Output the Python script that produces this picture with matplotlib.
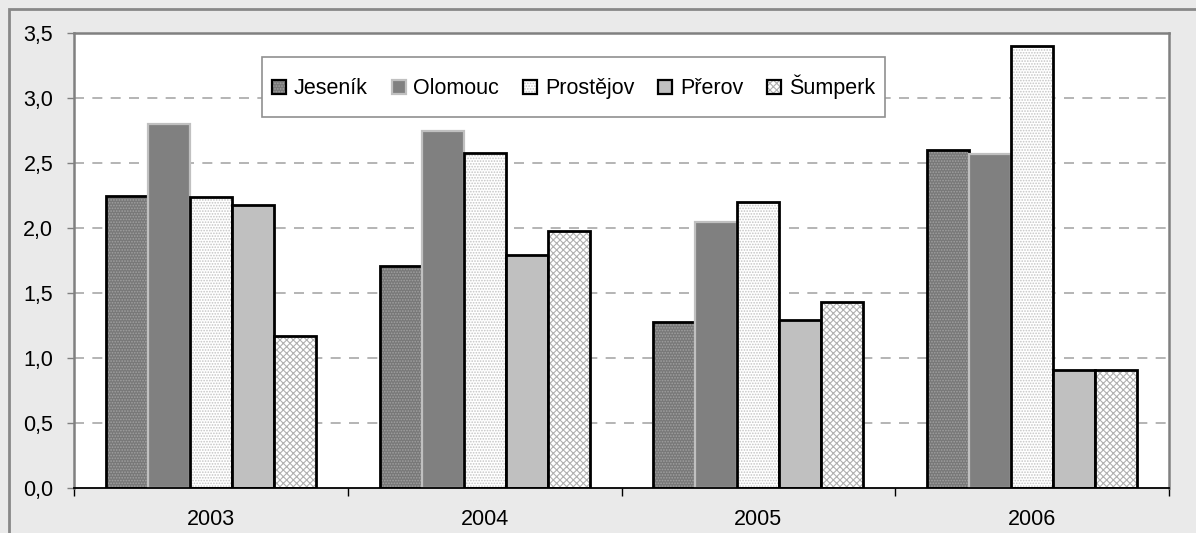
# -*- coding: utf-8 -*-
import matplotlib
matplotlib.use('Agg')
import matplotlib.pyplot as plt
import matplotlib.colors as mcolors
from matplotlib.patches import Patch, Rectangle
import numpy as np

##### DATEN #####
years = ['2003', '2004', '2005', '2006']
districts = ['Jeseník', 'Olomouc', 'Prostějov', 'Přerov', 'Šumperk']
jesenik = [2.25, 1.71, 1.28, 2.60]
olomouc = [2.80, 2.75, 2.05, 2.57]
prostejov = [2.24, 2.58, 2.20, 3.40]
prerov = [2.18, 1.79, 1.29, 0.91]
sumperk = [1.17, 1.98, 1.43, 0.91]
yticks = [0.0, 0.5, 1.0, 1.5, 2.0, 2.5, 3.0, 3.5]

series = [jesenik, olomouc, prostejov, prerov, sumperk]
# face, edge, hatch, hatch colour
styles = [('#787878', 'black', '......', '#a0a0a0'),
          ('#808080', '#c0c0c0', None, None),
          ('white', 'black', '......', '#c4c4c4'),
          ('#c0c0c0', 'black', None, None),
          ('white', 'black', 'xxxxx', '#b0b0b0')]

plt.rcParams['font.family'] = ['Liberation Sans', 'DejaVu Sans']
plt.rcParams['hatch.linewidth'] = 0.8

fig = plt.figure(figsize=(11.96, 5.33), dpi=100, facecolor='#eaeaea')
fig.patches.append(Rectangle((9/1196, -0.1), 1.2, 1 - 9/533 + 0.1, transform=fig.transFigure,
                             facecolor='none', edgecolor='#888888', lw=2, zorder=0))
ax = fig.add_axes([74/1196, 1 - 488/533, (1169 - 74)/1196, (488 - 33)/533])
ax.set_facecolor('white')

x = np.arange(len(years))
w = 0.1534
handles = []
for j, (vals, (fc, ec, hatch, hc)) in enumerate(zip(series, styles)):
    pos = x + (j - 2) * w
    lw = 2.0 if ec == 'black' else 1.6
    bars = ax.bar(pos, vals, w, color=fc, edgecolor=ec, linewidth=lw, hatch=hatch, zorder=3)
    h = Patch(facecolor=fc, edgecolor=ec, hatch=hatch, linewidth=1.6)
    if hatch:
        for b in bars:
            b._hatch_color = mcolors.to_rgba(hc)
            b.stale = True
        h._hatch_color = mcolors.to_rgba(hc)
    handles.append(h)

ax.set_xlim(-0.5, 3.5)
ax.set_ylim(0, 3.5)
ax.set_yticks(yticks)
ax.set_yticklabels([('%.1f' % t).replace('.', ',') for t in yticks])
ax.set_xticks(x)
ax.set_xticklabels(years)
ax.set_xticks(np.arange(-0.5, 4.0, 1.0), minor=True)
ax.tick_params(axis='x', which='major', length=0, labelsize=15.5, pad=15)
ax.tick_params(axis='x', which='minor', length=6, color='black', width=1)
ax.tick_params(axis='y', length=5, color='#808080', width=1, labelsize=15.5, pad=10)

for yv in yticks[1:-1]:
    ax.axhline(yv, color='#a8a8a8', lw=1.2, ls=(0, (6, 5)), zorder=1)

for s in ['left', 'top', 'right']:
    ax.spines[s].set_color('#808080')
    ax.spines[s].set_linewidth(1.8)
ax.spines['bottom'].set_color('black')
ax.spines['bottom'].set_linewidth(1.3)
ax.spines['bottom'].set_zorder(4)

# Legendenrahmen separat
ax.add_patch(Rectangle((262/1196, 1 - 117/533), 623/1196, 60/533, transform=fig.transFigure,
                       facecolor='white', edgecolor='#909090', lw=1.2, zorder=4.5, clip_on=False))
leg = ax.legend(handles, districts, ncol=5, loc='center left',
                bbox_to_anchor=(272/1196, 1 - 87/533), bbox_transform=fig.transFigure,
                frameon=False, fontsize=15.5,
                handlelength=0.65, handleheight=0.65, handletextpad=0.37,
                columnspacing=1.1, borderpad=0, borderaxespad=0)
leg.set_zorder(5)

fig.savefig('out.png', dpi=100, facecolor=fig.get_facecolor())
